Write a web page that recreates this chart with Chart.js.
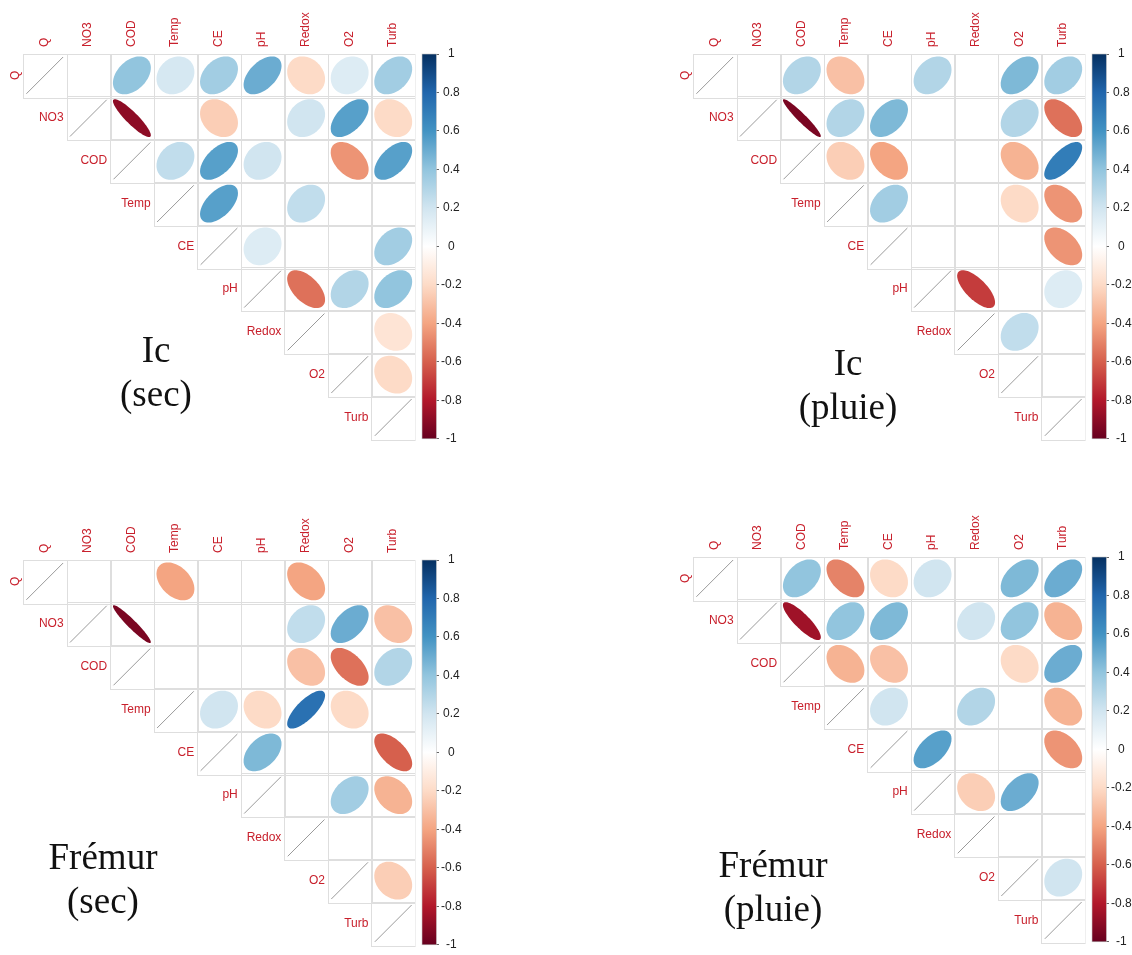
<!DOCTYPE html>
<html>
<head>
<meta charset="utf-8">
<script src="https://cdn.jsdelivr.net/npm/chart.js@4"></script>
<style>
  html, body { margin: 0; padding: 0; background: #fff; overflow: hidden; width: 1132px; height: 955px; }
  canvas { position: absolute; }
  .title { position: absolute; width: 260px; margin-left: -130px; text-align: center;
           font-family: "Liberation Serif", serif; font-size: 37px; line-height: 44px; color: #111; }
</style>
</head>
<body>
<canvas id="icSec" width="465" height="448" style="left:0px;top:0px"></canvas>
<canvas id="icPluie" width="465" height="448" style="left:670px;top:0px"></canvas>
<canvas id="fremurSec" width="465" height="448" style="left:0px;top:506px"></canvas>
<canvas id="fremurPluie" width="465" height="448" style="left:670px;top:503px"></canvas>

<div class="title" style="left:156px;top:328px">Ic<br>(sec)</div>
<div class="title" style="left:848px;top:341px">Ic<br>(pluie)</div>
<div class="title" style="left:103px;top:835px">Frémur<br>(sec)</div>
<div class="title" style="left:773px;top:843px">Frémur<br>(pluie)</div>

<script>
const vars = ['Q', 'NO3', 'COD', 'Temp', 'CE', 'pH', 'Redox', 'O2', 'Turb'];
const _ = null;

// upper triangle of each correlation matrix, blank = null
const icSec = [
  [1, _, 0.4, 0.18, 0.35, 0.5, -0.2, 0.15, 0.35],
  [_, 1, -0.9, _, -0.25, _, 0.2, 0.55, -0.2],
  [_, _, 1, 0.25, 0.55, 0.2, _, -0.45, 0.55],
  [_, _, _, 1, 0.55, _, 0.25, _, _],
  [_, _, _, _, 1, 0.15, _, _, 0.35],
  [_, _, _, _, _, 1, -0.55, 0.3, 0.4],
  [_, _, _, _, _, _, 1, _, -0.15],
  [_, _, _, _, _, _, _, 1, -0.2],
  [_, _, _, _, _, _, _, _, 1]
];
const icPluie = [
  [1, _, 0.3, -0.3, _, 0.3, _, 0.45, 0.35],
  [_, 1, -0.95, 0.3, 0.45, _, _, 0.3, -0.55],
  [_, _, 1, -0.25, -0.4, _, _, -0.35, 0.7],
  [_, _, _, 1, 0.35, _, _, -0.2, -0.45],
  [_, _, _, _, 1, _, _, _, -0.45],
  [_, _, _, _, _, 1, -0.7, _, 0.15],
  [_, _, _, _, _, _, 1, 0.25, _],
  [_, _, _, _, _, _, _, 1, _],
  [_, _, _, _, _, _, _, _, 1]
];
const fremurSec = [
  [1, _, _, -0.4, _, _, -0.4, _, _],
  [_, 1, -0.95, _, _, _, 0.25, 0.5, -0.3],
  [_, _, 1, _, _, _, -0.3, -0.55, 0.3],
  [_, _, _, 1, 0.2, -0.2, 0.75, -0.2, _],
  [_, _, _, _, 1, 0.45, _, _, -0.6],
  [_, _, _, _, _, 1, _, 0.35, -0.35],
  [_, _, _, _, _, _, 1, _, _],
  [_, _, _, _, _, _, _, 1, -0.25],
  [_, _, _, _, _, _, _, _, 1]
];
const fremurPluie = [
  [1, _, 0.4, -0.5, -0.2, 0.2, _, 0.45, 0.5],
  [_, 1, -0.85, 0.4, 0.45, _, 0.2, 0.4, -0.35],
  [_, _, 1, -0.35, -0.3, _, _, -0.2, 0.5],
  [_, _, _, 1, 0.2, _, 0.3, _, -0.35],
  [_, _, _, _, 1, 0.55, _, _, -0.45],
  [_, _, _, _, _, 1, -0.25, 0.5, _],
  [_, _, _, _, _, _, 1, _, _],
  [_, _, _, _, _, _, _, 1, 0.2],
  [_, _, _, _, _, _, _, _, 1]
];

const rdbu = ['#67001F', '#B2182B', '#D6604D', '#F4A582', '#FDDBC7', '#FFFFFF',
              '#D1E5F0', '#92C5DE', '#4393C3', '#2166AC', '#053061'];
const labelRed = '#c8202c';
const labelFont = '12px "Liberation Sans", Arial, sans-serif';

function hexRgb(c) {
  return [1, 3, 5].map(k => parseInt(c.slice(k, k + 2), 16));
}
function colorFor(v) {
  const t = (v + 1) / 2 * (rdbu.length - 1);
  const i = Math.min(Math.floor(t), rdbu.length - 2);
  const f = t - i;
  const a = hexRgb(rdbu[i]), b = hexRgb(rdbu[i + 1]);
  const c = a.map((ch, k) => Math.round(ch + (b[k] - ch) * f));
  return `rgb(${c[0]}, ${c[1]}, ${c[2]})`;
}

const corrPlot = {
  id: 'corrPlot',
  beforeDatasetsDraw(chart) {
    const { ctx, scales: { x, y } } = chart;
    const w = x.getPixelForValue(1) - x.getPixelForValue(0);
    ctx.save();
    ctx.strokeStyle = '#dedede';
    ctx.lineWidth = 1;
    for (let i = 0; i < vars.length; i++) {
      for (let j = i; j < vars.length; j++) {
        const cx = x.getPixelForValue(j), cy = y.getPixelForValue(i);
        ctx.strokeRect(Math.round(cx - w / 2) + 0.5, Math.round(cy - w / 2) + 0.5, Math.round(w), Math.round(w));
      }
    }
    // row labels next to the diagonal
    ctx.fillStyle = labelRed;
    ctx.font = labelFont;
    for (let i = 0; i < vars.length; i++) {
      const left = x.getPixelForValue(i) - w / 2;
      const cy = y.getPixelForValue(i);
      if (i === 0) {
        ctx.save();
        ctx.translate(left - 4.5, cy);
        ctx.rotate(-Math.PI / 2);
        ctx.textAlign = 'center';
        ctx.textBaseline = 'alphabetic';
        ctx.fillText(vars[i], 0, 0);
        ctx.restore();
      } else {
        ctx.textAlign = 'right';
        ctx.textBaseline = 'middle';
        ctx.fillText(vars[i], left - 3, cy);
      }
    }
    ctx.restore();
  },
  afterDatasetsDraw(chart) {
    const { ctx, scales: { x } } = chart;
    const w = x.getPixelForValue(1) - x.getPixelForValue(0);
    const s = w * 0.435;
    const data = chart.data.datasets[0].data;
    const meta = chart.getDatasetMeta(0);
    ctx.save();
    meta.data.forEach((pt, k) => {
      const v = data[k].v;
      if (v === 1) {
        ctx.strokeStyle = '#9a9a9a';
        ctx.lineWidth = 1;
        ctx.beginPath();
        ctx.moveTo(pt.x - s * 0.97, pt.y + s * 0.97);
        ctx.lineTo(pt.x + s * 0.97, pt.y - s * 0.97);
        ctx.stroke();
        return;
      }
      const d = Math.acos(v);
      ctx.fillStyle = colorFor(v);
      ctx.beginPath();
      for (let n = 0; n <= 80; n++) {
        const t = n / 80 * Math.PI * 2;
        const px = pt.x + s * Math.cos(t + d / 2);
        const py = pt.y - s * Math.cos(t - d / 2);
        if (n === 0) ctx.moveTo(px, py); else ctx.lineTo(px, py);
      }
      ctx.closePath();
      ctx.fill();
    });
    ctx.restore();
  },
  afterDraw(chart) {
    const { ctx } = chart;
    const cb = chart.scales.cb;
    const top = cb.getPixelForValue(1), bot = cb.getPixelForValue(-1);
    ctx.save();
    ctx.fillStyle = '#fff';
    ctx.fillRect(cb.left + 0.5, top - 2, 6.5, bot - top + 4);
    const grad = ctx.createLinearGradient(0, bot, 0, top);
    rdbu.forEach((c, k) => grad.addColorStop(k / (rdbu.length - 1), c));
    ctx.fillStyle = grad;
    ctx.fillRect(cb.left + 7, top, 14.5, bot - top);
    ctx.strokeStyle = '#c8c8c8';
    ctx.lineWidth = 0.6;
    ctx.strokeRect(cb.left + 7, top, 14.5, bot - top);
    ctx.restore();
  }
};

function makeChart(id, matrix) {
  const points = [];
  for (let i = 0; i < vars.length; i++) {
    for (let j = i; j < vars.length; j++) {
      if (matrix[i][j] !== null) points.push({ x: vars[j], y: vars[i], v: matrix[i][j] });
    }
  }
  new Chart(document.getElementById(id), {
    type: 'scatter',
    data: {
      datasets: [{ data: points, pointRadius: 0, pointHoverRadius: 0, pointHitRadius: 0 }]
    },
    options: {
      responsive: false,
      animation: false,
      events: [],
      layout: { padding: { left: 23, top: 0, right: 0, bottom: 2 } },
      plugins: { legend: { display: false }, tooltip: { enabled: false } },
      scales: {
        x: {
          type: 'category',
          labels: vars,
          position: 'top',
          offset: true,
          grid: { display: false, drawTicks: false },
          border: { display: false },
          ticks: {
            autoSkip: false, minRotation: 90, maxRotation: 90, padding: 7, labelOffset: 14,
            color: labelRed, font: { family: '"Liberation Sans", Arial, sans-serif', size: 12 }
          },
          afterFit(scale) { scale.height = 54; }
        },
        y: {
          type: 'category',
          labels: vars,
          offset: true,
          display: false
        },
        cb: {
          type: 'linear',
          position: 'right',
          min: -1,
          max: 1,
          grid: { drawOnChartArea: false, drawTicks: true, tickLength: 24, color: '#666' },
          border: { display: false },
          ticks: {
            stepSize: 0.2, padding: 2, crossAlign: 'center', color: '#222',
            font: { family: '"Liberation Sans", Arial, sans-serif', size: 12 },
            callback: v => String(Math.round(v * 10) / 10)
          },
          afterFit(scale) { scale.width = 50; }
        }
      }
    },
    plugins: [corrPlot]
  });
}

makeChart('icSec', icSec);
makeChart('icPluie', icPluie);
makeChart('fremurSec', fremurSec);
makeChart('fremurPluie', fremurPluie);
</script>
</body>
</html>
